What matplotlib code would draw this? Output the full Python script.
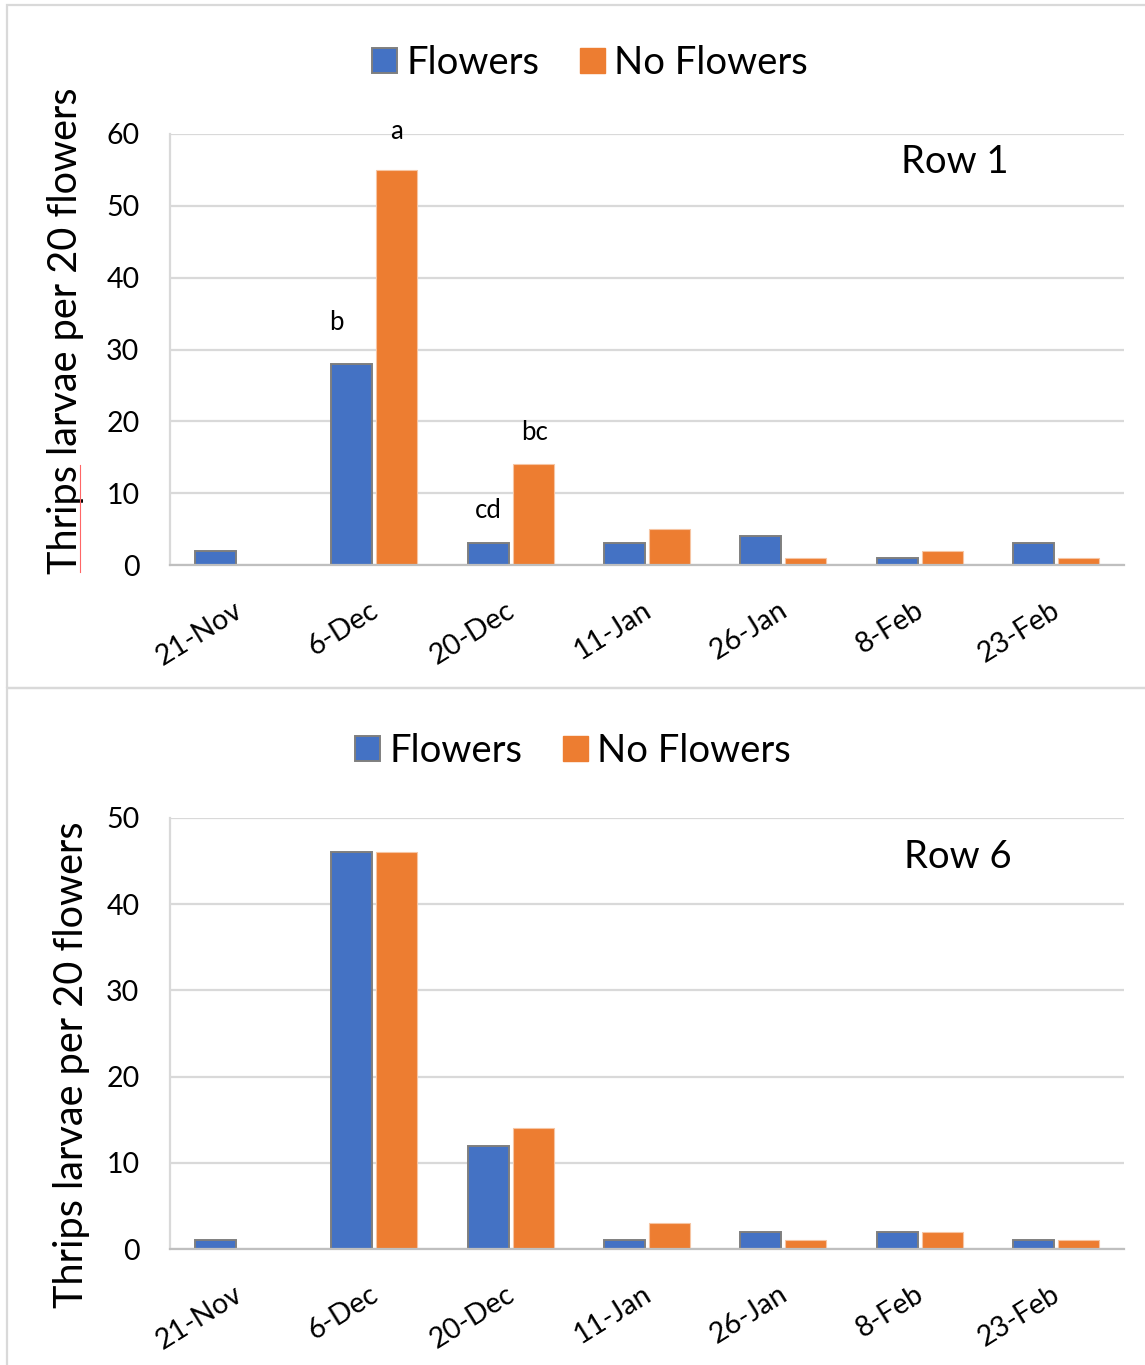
import numpy as np
import matplotlib
matplotlib.use('Agg')
import matplotlib.pyplot as plt
import matplotlib.transforms as mtransforms
from matplotlib.patches import Rectangle, Patch
from matplotlib.lines import Line2D

plt.rcParams['font.family'] = ['Lato', 'DejaVu Sans']

# data
dates = ['21-Nov', '6-Dec', '20-Dec', '11-Jan', '26-Jan', '8-Feb', '23-Feb']
row1_flowers = [2, 28, 3, 3, 4, 1, 3]
row1_noflowers = [0, 55, 14, 5, 1, 2, 1]
row6_flowers = [1, 46, 12, 1, 2, 2, 1]
row6_noflowers = [0, 46, 14, 3, 1, 2, 1]

# significance letters on row 1: (date index, series, letter)
row1_letters = [(1, 'f', 'b'), (1, 'n', 'a'), (2, 'f', 'cd'), (2, 'n', 'bc')]

BLUE = '#4472C4'
ORANGE = '#ED7D31'
GRID = '#d9d9d9'

W, H = 1145, 1365
fig = plt.figure(figsize=(W / 100, H / 100), dpi=100)


def px_rect(x0, y0, x1, y1):
    # pixel box (top-left origin) -> figure fraction [l, b, w, h]
    return [x0 / W, 1 - y1 / H, (x1 - x0) / W, (y1 - y0) / H]


# panel frames
for (y0, y1) in [(5, 688), (688, 1368)]:
    fig.add_artist(Rectangle((7 / W, 1 - y1 / H), (W + 10) / W, (y1 - y0) / H,
                             transform=fig.transFigure, fill=False,
                             edgecolor=GRID, linewidth=1.6))

x = np.arange(len(dates))
bw = 0.30
off = 0.165


def draw_panel(ax, flw, nofl, ymax, label, label_pos, ylab_pos):
    ax.bar(x - off, flw, bw, color=BLUE, edgecolor='#7f7f7f', linewidth=1.4, zorder=3)
    ax.bar(x + off, nofl, bw, color=ORANGE, edgecolor='#f6c5a3', linewidth=0.8, zorder=3)
    ax.set_xlim(-0.5, len(dates) - 0.5)
    ax.set_ylim(0, ymax)
    ax.set_yticks(np.arange(0, ymax + 1, 10))
    ax.grid(axis='y', color=GRID, linewidth=1.6, zorder=0)
    ax.set_axisbelow(True)
    for s in ['top', 'right']:
        ax.spines[s].set_visible(False)
    ax.spines['left'].set_color(GRID)
    ax.spines['left'].set_linewidth(1.6)
    ax.spines['bottom'].set_color('#bfbfbf')
    ax.spines['bottom'].set_linewidth(1.6)
    ax.spines['bottom'].set_zorder(4)
    ax.tick_params(axis='both', length=0, labelsize=20.5)
    ax.tick_params(axis='y', pad=22)
    ax.tick_params(axis='x', pad=23)
    ax.set_xticks(x)
    ax.set_xticklabels(dates, rotation=32, ha='right', rotation_mode='anchor')
    shift = mtransforms.ScaledTranslation(-5 / 100, 0, fig.dpi_scale_trans)
    for t in ax.get_xticklabels():
        t.set_transform(t.get_transform() + shift)
    ax.set_ylabel('Thrips larvae per 20 flowers', fontsize=28.5, va='center')
    ax.yaxis.set_label_coords(*ylab_pos)
    ax.text(label_pos[0], label_pos[1], label, transform=ax.transAxes,
            fontsize=27.5, ha='center', va='center')


ax1 = fig.add_axes(px_rect(170, 134, 1124, 565))
draw_panel(ax1, row1_flowers, row1_noflowers, 60, 'Row 1', (0.823, 0.935), (-0.110, 0.543))

ax2 = fig.add_axes(px_rect(170, 818, 1124, 1249))
draw_panel(ax2, row6_flowers, row6_noflowers, 50, 'Row 6', (0.826, 0.909), (-0.103, 0.427))

# letters above bars (offsets in points)
letter_shift = {'b': (-11, 30), 'a': (0, 28), 'cd': (0, 24), 'bc': (1, 23)}
for i, series, txt in row1_letters:
    if series == 'f':
        xv, yv = i - off, row1_flowers[i]
    else:
        xv, yv = i + off, row1_noflowers[i]
    dx, dy = letter_shift[txt]
    ax1.annotate(txt, (xv, yv), xytext=(dx, dy), textcoords='offset points',
                 ha='center', va='center', fontsize=18.5)

# legends
handles = [Patch(facecolor=BLUE, edgecolor='#7f7f7f', linewidth=1.4, label='Flowers'),
           Patch(facecolor=ORANGE, edgecolor=ORANGE, label='No Flowers')]
for cx, cy in [(590 / W, 1 - 63 / H), (573 / W, 1 - 751 / H)]:
    fig.legend(handles=handles, loc='center', bbox_to_anchor=(cx, cy), ncol=2,
               frameon=False, fontsize=27.5, handlelength=0.65, handleheight=0.65,
               handletextpad=0.25, columnspacing=1.05)

# red spell-check mark under "Thrips"
fig.add_artist(Line2D([80 / W, 80 / W], [1 - 572 / H, 1 - 465 / H],
                      transform=fig.transFigure, color='#ff6666', linewidth=0.8))

fig.savefig('out.png', dpi=100)
